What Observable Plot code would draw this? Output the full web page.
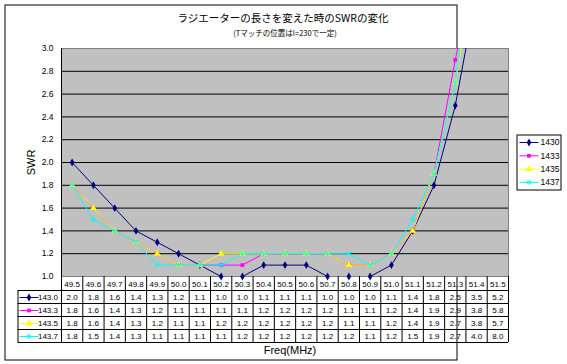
<!DOCTYPE html>
<html><head><meta charset="utf-8">
<script src="https://cdn.jsdelivr.net/npm/d3@7"></script>
<script src="https://cdn.jsdelivr.net/npm/@observablehq/plot@0.6"></script>
<style>body{margin:0;background:#fff} svg{display:block}</style>
</head><body><div id="chart"></div>
<script>
const title = "ラジエーターの長さを変えた時のSWRの変化";
const subtitle = "(Tマッチの位置はl=230で一定)";
const xLabel = "Freq(MHz)";
const yLabel = "SWR";
const freqs = [49.5,49.6,49.7,49.8,49.9,50.0,50.1,50.2,50.3,50.4,50.5,50.6,50.7,50.8,50.9,51.0,51.1,51.2,51.3,51.4,51.5];
const seriesLegend = ["1430","1433","1435","1437"];
const seriesTable = ["143.0","143.3","143.5","143.7"];
const swr1430 = [2.0,1.8,1.6,1.4,1.3,1.2,1.1,1.0,1.0,1.1,1.1,1.1,1.0,1.0,1.0,1.1,1.4,1.8,2.5,3.5,5.2];
const swr1433 = [1.8,1.6,1.4,1.3,1.2,1.1,1.1,1.1,1.1,1.2,1.2,1.2,1.2,1.1,1.1,1.2,1.4,1.9,2.9,3.8,5.8];
const swr1435 = [1.8,1.6,1.4,1.3,1.2,1.1,1.1,1.2,1.2,1.2,1.2,1.2,1.2,1.1,1.1,1.2,1.4,1.9,2.7,3.8,5.7];
const swr1437 = [1.8,1.5,1.4,1.3,1.1,1.1,1.1,1.1,1.2,1.2,1.2,1.2,1.2,1.2,1.1,1.2,1.5,1.9,2.7,4.0,8.0];
const yTicks = [1.0,1.2,1.4,1.6,1.8,2.0,2.2,2.4,2.6,2.8,3.0];
const gridTicks = [1.2,1.4,1.6,1.8,2.0,2.2,2.4,2.6,2.8];

const colors = ["#000080","#ff00ff","#ffff00","#00ffff"];
const symbols = ["diamond","square","triangle","asterisk"];
const dotR = [2.4,2.1,2.5,2.4];
const allVals = [swr1430, swr1433, swr1435, swr1437];

const long = [];
allVals.forEach((vals, i) => vals.forEach((v, j) => long.push({series: seriesLegend[i], freq: freqs[j], swr: v})));
const step = 0.1;
const bounds = [freqs[0]-step/2, ...freqs.map(f => f + step/2)];
const yMax = yTicks[yTicks.length-1];

const hline = (w) => ({draw(ctx){ ctx.moveTo(-w,0); ctx.lineTo(w,0); }});

const W = 567, H = 364;
const mL = 61, mR = 59, mT = 48, mB = 88;
const rowH = 13;

const marks = [];
// outer border
marks.push(Plot.frame({insetLeft: -(mL-4.5), insetRight: -(W-mR-559.5), insetTop: -(mT-4.5), insetBottom: -(359.5-(H-mB)), stroke: "black", fill: "white"}));
// plot area
marks.push(Plot.frame({fill: "#c0c0c0", stroke: "#808080"}));
marks.push(Plot.ruleY(gridTicks, {stroke: "black", strokeWidth: 1}));
marks.push(Plot.ruleX([bounds[0]], {stroke: "black"}));
// y axis
marks.push(Plot.axisY({ticks: yTicks, tickFormat: d => d.toFixed(1), tickSize: 0, tickPadding: 8, fontSize: 8.5, label: null}));
marks.push(Plot.text([yLabel], {frameAnchor: "left", dx: -30, rotate: -90, fontSize: 11, text: d => d, textAnchor: "middle", lineAnchor: "middle"}));
// titles
marks.push(Plot.text([title], {frameAnchor: "top", dy: -30, dx: -2, text: d => d, fontSize: 10.5, lineAnchor: "middle", textAnchor: "middle", fontFamily: "Noto Sans CJK JP"}));
marks.push(Plot.text([subtitle], {frameAnchor: "top", dy: -15, text: d => d, fontSize: 7.5, lineAnchor: "middle", textAnchor: "middle", fontFamily: "Noto Sans CJK JP"}));
// data table lines
const tableBottom = 14 + rowH*4;
marks.push(Plot.ruleX(bounds, {stroke: "black", insetTop: H - mT - mB, insetBottom: -tableBottom}));
marks.push(Plot.ruleX([bounds[0]], {stroke: "black", dx: -(mL-17.5), insetTop: H - mT - mB + 14, insetBottom: -tableBottom}));
for (let k = 0; k <= 4; k++) {
  marks.push(Plot.ruleY([yTicks[0]], {stroke: "black", dy: 14 + rowH*k, insetLeft: -(mL-17.5)}));
}
// header labels
marks.push(Plot.text(freqs, {x: d => d, text: d => d.toFixed(1), frameAnchor: "bottom", dy: 7.5, lineAnchor: "middle", fontSize: 8}));
// table values and keys
allVals.forEach((vals, i) => {
  const dy = 14 + rowH*i + rowH/2 + 0.5;
  const iso = symbols[i] === "asterisk";
  marks.push(Plot.text(vals.map((v, j) => ({freq: freqs[j], v})), {x: "freq", text: d => d.v.toFixed(1), frameAnchor: "bottom", dy, lineAnchor: "middle", textAnchor: "middle", fontSize: 8}));
  marks.push(Plot.dot([seriesTable[i]], {frameAnchor: "bottom-left", dx: 28.5 - mL, dy, symbol: hline(9.5), r: 1, stroke: colors[i], strokeWidth: 1}));
  marks.push(Plot.dot([seriesTable[i]], {frameAnchor: "bottom-left", dx: 28.5 - mL, dy, symbol: symbols[i], r: dotR[i], fill: iso ? "none" : colors[i], stroke: iso ? colors[i] : "none", strokeWidth: 1}));
  marks.push(Plot.text([seriesTable[i]], {frameAnchor: "bottom-left", dx: 57.5 - mL, dy, text: d => d, textAnchor: "end", lineAnchor: "middle", fontSize: 8}));
});
marks.push(Plot.text([xLabel], {frameAnchor: "bottom", dx: 5, dy: 74, text: d => d, fontSize: 11, lineAnchor: "middle", textAnchor: "middle"}));
// series lines and markers
marks.push(Plot.line(long, {x: "freq", y: "swr", z: "series", stroke: "series", strokeWidth: 1, clip: true}));
allVals.forEach((vals, i) => {
  const iso = symbols[i] === "asterisk";
  marks.push(Plot.dot(long.filter(d => d.series === seriesLegend[i] && d.swr <= yMax), {x: "freq", y: "swr", symbol: symbols[i], r: dotR[i], fill: iso ? "none" : colors[i], stroke: iso ? colors[i] : "none", strokeWidth: 1}));
});
// legend
marks.push(Plot.frame({insetLeft: 516.5 - mL, insetRight: -(560.5 - (W-mR)), insetTop: 134.5 - mT, insetBottom: (H-mB) - 189.5, fill: "white", stroke: "black"}));
seriesLegend.forEach((s, i) => {
  const dy = 142 - mT + 13.3*i;
  const iso = symbols[i] === "asterisk";
  marks.push(Plot.dot([s], {frameAnchor: "top-right", dx: 528.5 - (W-mR), dy, symbol: hline(9.5), r: 1, stroke: colors[i], strokeWidth: 1}));
  marks.push(Plot.dot([s], {frameAnchor: "top-right", dx: 528.5 - (W-mR), dy, symbol: symbols[i], r: dotR[i], fill: iso ? "none" : colors[i], stroke: iso ? colors[i] : "none", strokeWidth: 1}));
  marks.push(Plot.text([s], {frameAnchor: "top-right", dx: 540 - (W-mR), dy, text: d => d, textAnchor: "start", lineAnchor: "middle", fontSize: 8.5}));
});

const chart = Plot.plot({
  width: W, height: H,
  marginLeft: mL, marginRight: mR, marginTop: mT, marginBottom: mB,
  x: {domain: [bounds[0], bounds[bounds.length-1]], axis: null},
  y: {domain: [1, 3], axis: null},
  color: {domain: seriesLegend, range: colors},
  style: {fontFamily: "'Liberation Sans', Arial, sans-serif", fontSize: "8px", background: "white", color: "black"},
  marks
});
document.getElementById("chart").appendChild(chart);
</script>
</body></html>
